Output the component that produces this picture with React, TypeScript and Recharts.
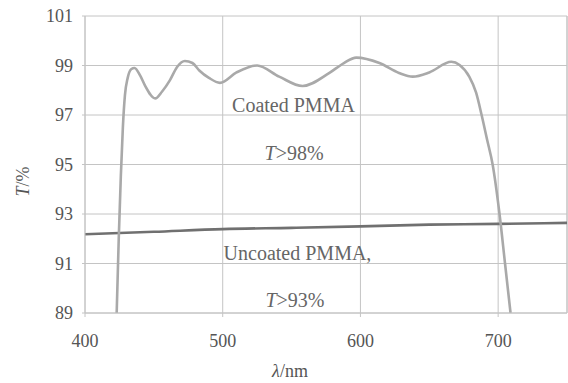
import React from 'react';
import {
  LineChart,
  Line,
  XAxis,
  YAxis,
  CartesianGrid,
  ReferenceLine,
  ReferenceDot,
} from 'recharts';

// wavelength (nm) / transmittance (%)
const coatedWavelength = [
  423, 424.5, 426, 427.5, 429, 431, 433.5, 436, 440, 443.5, 451, 456, 461.6, 467, 472.5, 478,
  483, 490, 498, 510, 525, 541, 558, 577.5, 588, 597, 613.8, 628, 638, 650, 666, 672, 679,
  684, 688, 692, 696, 701, 705, 709,
];
const coatedT = [
  89, 92, 94.5, 96.5, 97.8, 98.5, 98.85, 98.9, 98.6, 98.2, 97.67, 97.95, 98.4, 98.95, 99.18,
  99.1, 98.8, 98.5, 98.3, 98.72, 99.0, 98.55, 98.17, 98.7, 99.1, 99.32, 99.1, 98.7, 98.55,
  98.72, 99.15, 99.02, 98.55, 97.9, 97.0, 96.0, 95.0, 93.0, 91.0, 89.0,
];

const uncoatedWavelength = [400, 450, 500, 550, 600, 650, 700, 750];
const uncoatedT = [92.18, 92.28, 92.39, 92.44, 92.5, 92.57, 92.6, 92.64];

const xTicks = [400, 500, 600, 700];
const yTicks = [89, 91, 93, 95, 97, 99, 101];

// annotations: [lambda, T, italic part, rest]
const notes: [number, number, string, string][] = [
  [551.4, 97.4, '', 'Coated PMMA'],
  [551.8, 95.46, 'T', '>98%'],
  [554.3, 91.42, '', 'Uncoated PMMA,'],
  [552.5, 89.52, 'T', '>93%'],
];

const LAMBDA = '\u03bb';

const coatedData = coatedWavelength.map((x, i) => ({ x, t: coatedT[i] }));
const uncoatedData = uncoatedWavelength.map((x, i) => ({ x, t: uncoatedT[i] }));

const FONT = 'Liberation Serif';
const COLORS = {
  coated: '#a9a9a9',
  uncoated: '#707070',
  grid: '#c4c4c4',
  tick: '#555',
  note: '#666',
};

const App: React.FC = () => {
  return (
    <div>
      {/* warm up the serif face before the chart's svg text is laid out */}
      <div style={{ position: 'absolute', left: 0, top: 0, fontFamily: FONT, fontSize: 20, color: '#fff' }}>
        Coated PMMA 0123456789
      </div>
      <svg width={1} height={1} style={{ position: 'absolute', left: 0, top: 0 }}>
        <text x={0} y={1} fontFamily={FONT} fontSize={18} fill="#fff">0</text>
      </svg>
      <div style={{ position: 'absolute', left: 0, top: 0, width: 568, height: 383, background: '#fff' }}>
        <LineChart width={568} height={383} margin={{ top: 16, right: 1, left: 0, bottom: 0 }} style={{ fontFamily: FONT }}>
          <CartesianGrid stroke={COLORS.grid} strokeWidth={1} />
          <XAxis
            type="number"
            dataKey="x"
            domain={[400, 750]}
            ticks={xTicks}
            allowDataOverflow
            height={70}
            tickSize={4}
            tickMargin={17}
            stroke={COLORS.grid}
            tick={{ fontSize: 18, fill: COLORS.tick, fontFamily: FONT }}
            label={{
              content: (p: any) => {
                const vb = p.viewBox;
                return (
                  <text x={vb.x + vb.width / 2 - 36} y={vb.y + 64} textAnchor="middle" fontSize={18} fill={COLORS.tick} fontFamily={FONT}>
                    <tspan fontStyle="italic">{LAMBDA}</tspan>/nm
                  </text>
                );
              },
            }}
          />
          <YAxis
            type="number"
            domain={[89, 101]}
            ticks={yTicks}
            allowDataOverflow
            width={85}
            tickSize={3}
            tickMargin={9}
            stroke={COLORS.grid}
            tick={{ fontSize: 18, fill: COLORS.tick, fontFamily: FONT }}
            label={{
              content: (p: any) => {
                const vb = p.viewBox;
                const cx = vb.x + 23;
                const cy = vb.y + vb.height / 2 + 17;
                return (
                  <text x={cx} y={cy} transform={`rotate(-90 ${cx} ${cy})`} textAnchor="middle" dominantBaseline="central" fontSize={18} fill={COLORS.tick} fontFamily={FONT}>
                    <tspan fontStyle="italic">T</tspan>/%
                  </text>
                );
              },
            }}
          />
          <ReferenceLine x={750} stroke={COLORS.grid} />
          <Line
            data={uncoatedData}
            dataKey="t"
            type="monotone"
            stroke={COLORS.uncoated}
            strokeWidth={2.6}
            dot={false}
            isAnimationActive={false}
          />
          <Line
            data={coatedData}
            dataKey="t"
            type="monotone"
            stroke={COLORS.coated}
            strokeWidth={2.6}
            dot={false}
            isAnimationActive={false}
          />
          {notes.map(([x, y, it, rest], i) => (
            <ReferenceDot
              key={i}
              x={x}
              y={y}
              r={0}
              isFront
              shape={(p: any) => (
                <text x={p.cx} y={p.cy} dy={7} textAnchor="middle" fontSize={20} fill={COLORS.note} fontFamily={FONT}>
                  {it && <tspan fontStyle="italic">{it}</tspan>}
                  {rest}
                </text>
              )}
            />
          ))}
        </LineChart>
      </div>
    </div>
  );
};

export default App;
